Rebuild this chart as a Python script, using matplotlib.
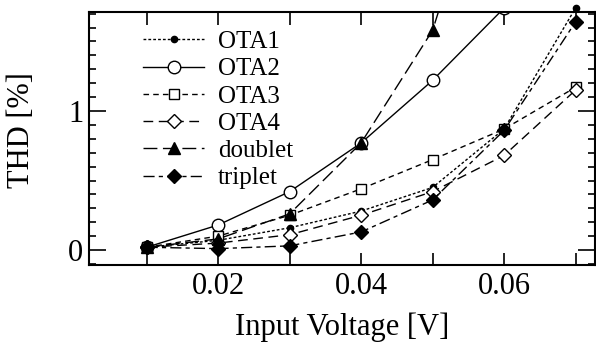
#!/usr/bin/env python3
import numpy as np
import matplotlib
matplotlib.use('Agg')
import matplotlib.pyplot as plt
from matplotlib.legend_handler import HandlerLine2D

volts = [0.01, 0.02, 0.03, 0.04, 0.05, 0.06, 0.07]
ota1 = [0.02, 0.07, 0.16, 0.28, 0.45, 0.87, 1.74]
ota2 = [0.02, 0.18, 0.42, 0.77, 1.22, 1.74, 2.40]
ota3 = [0.02, 0.10, 0.25, 0.44, 0.65, 0.87, 1.17]
ota4 = [0.02, 0.05, 0.11, 0.25, 0.42, 0.68, 1.15]
doublet = [0.02, 0.08, 0.26, 0.77, 1.58, 3.20, np.nan]
triplet = [0.02, 0.01, 0.03, 0.13, 0.36, 0.86, 1.64]

xticks = [0.02, 0.04, 0.06]
xlabels = ['0.02', '0.04', '0.06']


class LeftMarker(HandlerLine2D):
    # marker sits at the left end of the legend line, like the original
    def get_xdata(self, legend, xdescent, ydescent, width, height, fontsize):
        return [-xdescent, -xdescent + width], [-xdescent]


plt.rcParams['font.family'] = ['Liberation Serif', 'DejaVu Serif']

fig = plt.figure(figsize=(5.96, 3.42), dpi=100)
ax = fig.add_axes([0.149, 0.225, 0.849, 0.740])

k = dict(color='black', lw=1.0)
ax.plot(volts, ota1, marker='o', ms=4.5, dashes=(2, 1.5), label='OTA1', clip_on=False, **k)
ax.plot(volts, ota2, marker='o', ms=9, mfc='white', ls='-', label='OTA2', **k)
ax.plot(volts, ota3, marker='s', ms=6.5, mfc='white', dashes=(4, 3), label='OTA3', **k)
ax.plot(volts, ota4, marker='D', ms=7.5, mfc='white', dashes=(7, 4), label='OTA4', **k)
ax.plot(volts, doublet, marker='^', ms=8, dashes=(10, 4), label='doublet', **k)
ax.plot(volts, triplet, marker='D', ms=7.5, dashes=(8, 3, 3, 3), label='triplet', **k)

ax.set_xlim(0.0019, 0.0727)
ax.set_ylim(-0.108, 1.712)

ax.set_xticks(xticks)
ax.set_xticklabels(xlabels)
ax.set_xticks([0.01, 0.03, 0.05, 0.07], minor=True)
ax.set_yticks([0, 1])
ax.set_yticklabels(['0', '1'])
ax.set_yticks(np.arange(-0.1, 1.75, 0.1), minor=True)

ax.tick_params(axis='x', which='both', direction='in', top=True, length=9, width=1.2,
               labelsize=22, pad=5)
ax.tick_params(axis='y', which='major', direction='in', right=True, length=12, width=1.2,
               labelsize=22, pad=4)
ax.tick_params(axis='y', which='minor', direction='in', right=True, length=5, width=1.2)
for s in ax.spines.values():
    s.set_linewidth(1.5)

ax.set_xlabel('Input Voltage [V]', fontsize=22, labelpad=8)
ax.set_ylabel('THD [%]', fontsize=22)
ax.yaxis.set_label_coords(-0.105, 0.534)

ax.legend(loc='upper left', bbox_to_anchor=(0.107, 0.926), frameon=False, fontsize=18,
          handlelength=2.45, handletextpad=0.56, labelspacing=0.19, borderaxespad=0,
          borderpad=0, handler_map={matplotlib.lines.Line2D: LeftMarker()})

fig.savefig('out.png', dpi=100)
